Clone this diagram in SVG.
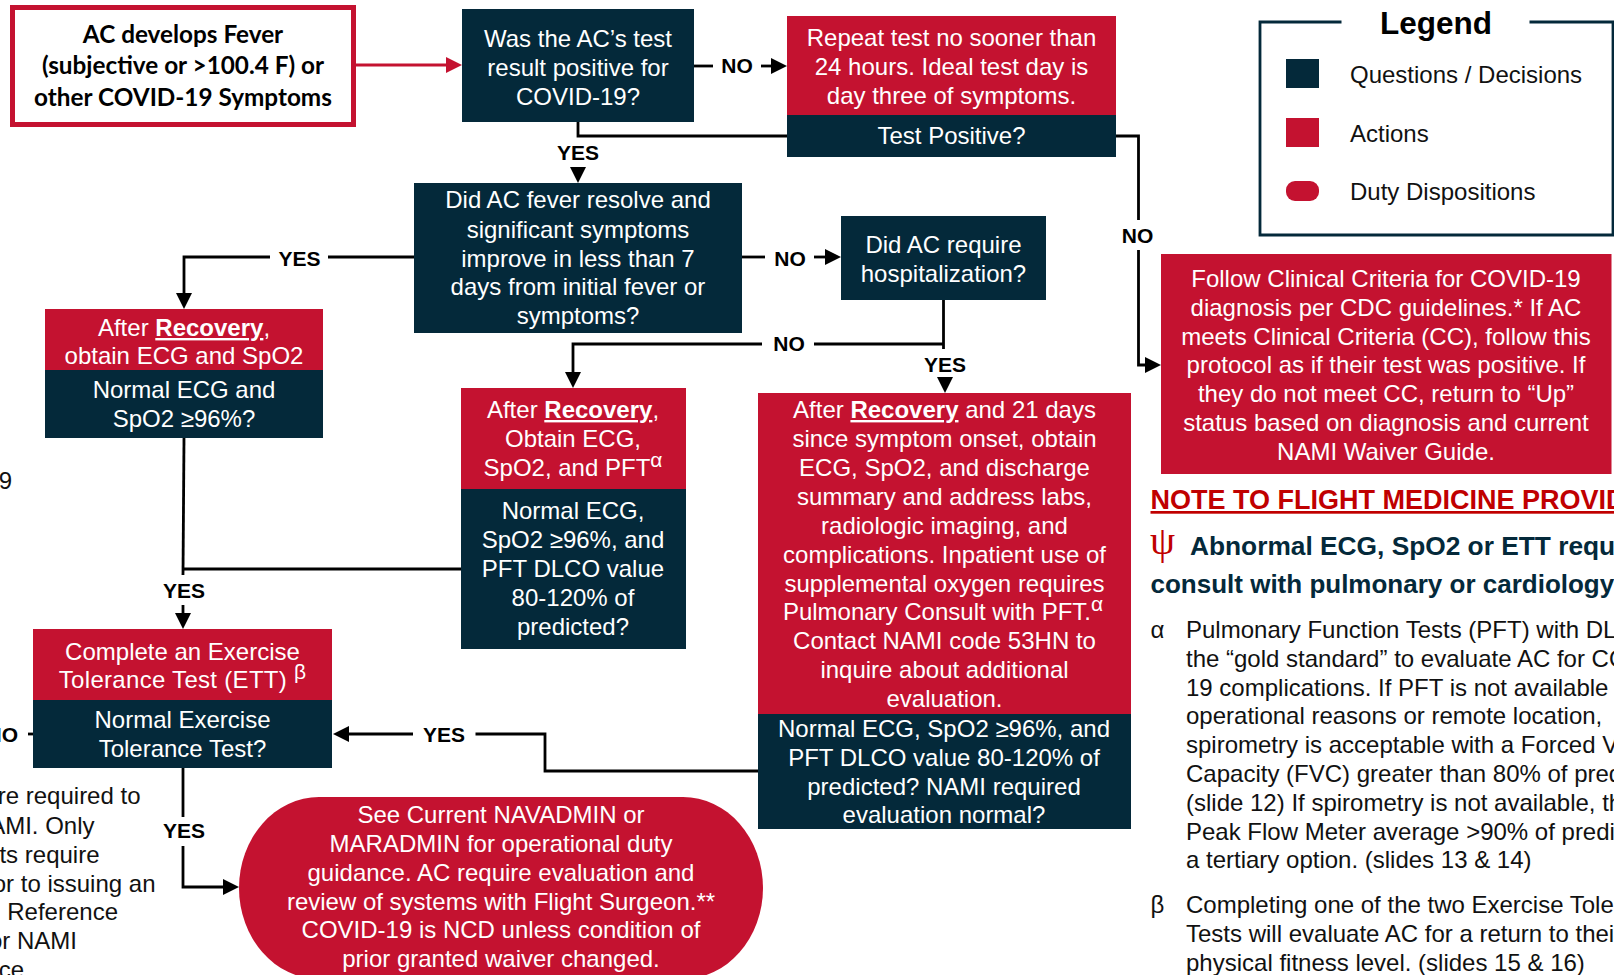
<svg xmlns="http://www.w3.org/2000/svg" width="1614" height="975" viewBox="0 0 1614 975">
<style>
text{font-family:"Liberation Sans",Arial,sans-serif;font-size:24px;text-anchor:middle}
.w{fill:#fff}
.l{text-anchor:start;fill:#111}
.e{text-anchor:end;fill:#111}
.lab{font-weight:700;font-size:21px;fill:#000}
.start{font-family:Lato,"Liberation Sans",sans-serif;font-weight:700;fill:#000;font-size:24.3px}
.b{font-weight:700;text-decoration:underline}
.sup{font-size:21px}
.navy{fill:#04293a}
.red{fill:#c41230}
.c{fill:none;stroke:#000;stroke-width:2.8}
.h{font-weight:700;font-size:26px;text-anchor:start;fill:#04293a}
</style>
<defs>
<marker id="a" markerUnits="userSpaceOnUse" markerWidth="16" markerHeight="16" refX="12" refY="8" orient="auto"><path d="M0,0L16,8L0,16z" fill="#000"/></marker>
<marker id="ar" markerUnits="userSpaceOnUse" markerWidth="16" markerHeight="16" refX="12" refY="8" orient="auto"><path d="M0,0L16,8L0,16z" fill="#c41230"/></marker>
</defs>
<rect width="1614" height="975" fill="#fff"/>

<g id="connectors">
<path d="M356,65H458" fill="none" stroke="#c41230" stroke-width="3" marker-end="url(#ar)"/>
<path class="c" d="M694,66H713"/>
<path class="c" d="M761,66H783" marker-end="url(#a)"/>
<path class="c" d="M578,122V136H787"/>
<path class="c" d="M578,168V179" marker-end="url(#a)"/>
<path class="c" d="M1116,136H1138.5V220"/>
<path class="c" d="M1138.5,250V365H1157" marker-end="url(#a)"/>
<path class="c" d="M414,257H328"/>
<path class="c" d="M270,257H184V305" marker-end="url(#a)"/>
<path class="c" d="M742,257H765"/>
<path class="c" d="M814,257H837" marker-end="url(#a)"/>
<path class="c" d="M943.5,300V349"/>
<path class="c" d="M943.5,344H814"/>
<path class="c" d="M762,344H573V384" marker-end="url(#a)"/>
<path class="c" d="M945,379V389" marker-end="url(#a)"/>
<path class="c" d="M184,438L183,575"/>
<path class="c" d="M183,569H461"/>
<path class="c" d="M183,605V625" marker-end="url(#a)"/>
<path class="c" d="M183,768V817"/>
<path class="c" d="M183,846V887H235" marker-end="url(#a)"/>
<path class="c" d="M28,734H33"/>
<path class="c" d="M758,771H545V734H475.5"/>
<path class="c" d="M413,734H337" marker-end="url(#a)"/>
</g>

<g id="connector-labels">
<text class="lab" x="737" y="73">NO</text>
<text class="lab" x="578" y="160">YES</text>
<text class="lab" x="1137.5" y="243">NO</text>
<text class="lab" x="299.5" y="266">YES</text>
<text class="lab" x="790" y="266">NO</text>
<text class="lab" x="789" y="351">NO</text>
<text class="lab" x="945" y="372">YES</text>
<text class="lab" x="184" y="598">YES</text>
<text class="lab" x="184" y="838">YES</text>
<text class="lab" x="18" y="742" style="text-anchor:end">NO</text>
<text class="lab" x="444" y="742">YES</text>
</g>

<g id="node-start">
<rect x="12.500" y="7.500" width="341" height="117" fill="#fff" stroke="#c41230" stroke-width="5"/>
<text class="start" x="183" y="43">AC develops Fever</text>
<text class="start" x="183" y="74">(subjective or &gt;100.4 F) or</text>
<text class="start" x="183" y="106">other COVID-19 Symptoms</text>
</g>

<g id="node-test-positive">
<rect class="navy" x="462" y="9" width="232" height="113"/>
<text class="w" x="578" y="46.500">Was the AC’s test</text>
<text class="w" x="578" y="75.500">result positive for</text>
<text class="w" x="578" y="104.500">COVID-19?</text>
</g>

<g id="node-repeat-test">
<rect class="red" x="787" y="16" width="329" height="99"/>
<rect class="navy" x="787" y="115" width="329" height="42"/>
<text class="w" x="951.5" y="46">Repeat test no sooner than</text>
<text class="w" x="951.5" y="75">24 hours. Ideal test day is</text>
<text class="w" x="951.5" y="104">day three of symptoms.</text>
<text class="w" x="951.5" y="144">Test Positive?</text>
</g>

<g id="node-fever-resolve">
<rect class="navy" x="414" y="183" width="328" height="150"/>
<text class="w" x="578" y="208">Did AC fever resolve and</text>
<text class="w" x="578" y="238">significant symptoms</text>
<text class="w" x="578" y="267">improve in less than 7</text>
<text class="w" x="578" y="295">days from initial fever or</text>
<text class="w" x="578" y="324">symptoms?</text>
</g>

<g id="node-hospitalization">
<rect class="navy" x="841" y="216" width="205" height="84"/>
<text class="w" x="943.5" y="253">Did AC require</text>
<text class="w" x="943.5" y="282">hospitalization?</text>
</g>

<g id="node-clinical-criteria">
<rect class="red" x="1161" y="254" width="450.500" height="220"/>
<text class="w" x="1386" y="287">Follow Clinical Criteria for COVID-19</text>
<text class="w" x="1386" y="316">diagnosis per CDC guidelines.* If AC</text>
<text class="w" x="1386" y="345">meets Clinical Criteria (CC), follow this</text>
<text class="w" x="1386" y="373">protocol as if their test was positive. If</text>
<text class="w" x="1386" y="402">they do not meet CC, return to “Up”</text>
<text class="w" x="1386" y="431">status based on diagnosis and current</text>
<text class="w" x="1386" y="460">NAMI Waiver Guide.</text>
</g>

<g id="node-recovery-ecg">
<rect class="red" x="45" y="309" width="278" height="61"/>
<rect class="navy" x="45" y="370" width="278" height="68"/>
<text class="w" x="184" y="336">After <tspan class="b">Recovery</tspan>,</text>
<text class="w" x="184" y="364">obtain ECG and SpO2</text>
<text class="w" x="184" y="398">Normal ECG and</text>
<text class="w" x="184" y="427">SpO2 ≥96%?</text>
</g>

<g id="node-recovery-pft">
<rect class="red" x="461" y="388" width="225" height="101"/>
<rect class="navy" x="461" y="489" width="225" height="160"/>
<text class="w" x="573" y="418">After <tspan class="b">Recovery</tspan>,</text>
<text class="w" x="573" y="447">Obtain ECG,</text>
<text class="w" x="573" y="476">SpO2, and PFT<tspan class="sup" dy="-9">α</tspan></text>
<text class="w" x="573" y="519">Normal ECG,</text>
<text class="w" x="573" y="548">SpO2 ≥96%, and</text>
<text class="w" x="573" y="577">PFT DLCO value</text>
<text class="w" x="573" y="606">80-120% of</text>
<text class="w" x="573" y="635">predicted?</text>
</g>

<g id="node-recovery-21days">
<rect class="red" x="758" y="393" width="373" height="321"/>
<rect class="navy" x="758" y="714" width="373" height="115"/>
<text class="w" x="944.500" y="418">After <tspan class="b">Recovery</tspan> and 21 days</text>
<text class="w" x="944.500" y="447">since symptom onset, obtain</text>
<text class="w" x="944.500" y="476">ECG, SpO2, and discharge</text>
<text class="w" x="944.500" y="505">summary and address labs,</text>
<text class="w" x="944.500" y="534">radiologic imaging, and</text>
<text class="w" x="944.500" y="563">complications. Inpatient use of</text>
<text class="w" x="944.500" y="592">supplemental oxygen requires</text>
<text class="w" x="943" y="620">Pulmonary Consult with PFT.<tspan class="sup" dy="-9">α</tspan></text>
<text class="w" x="944.500" y="648.500">Contact NAMI code 53HN to</text>
<text class="w" x="944.500" y="677.500">inquire about additional</text>
<text class="w" x="944.500" y="706.500">evaluation.</text>
<text class="w" x="944" y="737">Normal ECG, SpO2 ≥96%, and</text>
<text class="w" x="944" y="766">PFT DLCO value 80-120% of</text>
<text class="w" x="944" y="795">predicted? NAMI required</text>
<text class="w" x="944" y="822.500">evaluation normal?</text>
</g>

<g id="node-ett">
<rect class="red" x="33" y="629" width="299" height="71"/>
<rect class="navy" x="33" y="700" width="299" height="68"/>
<text class="w" x="182.500" y="659.500">Complete an Exercise</text>
<text class="w" x="182.500" y="688"><tspan letter-spacing="0.3">Tolerance Test (ETT) </tspan><tspan class="sup" dy="-9">β</tspan></text>
<text class="w" x="182.500" y="728">Normal Exercise</text>
<text class="w" x="182.500" y="757">Tolerance Test?</text>
</g>

<g id="node-duty">
<rect class="red" x="239" y="797" width="524" height="182" rx="80" ry="91"/>
<text class="w" x="501" y="823">See Current NAVADMIN or</text>
<text class="w" x="501" y="852">MARADMIN for operational duty</text>
<text class="w" x="501" y="881">guidance. AC require evaluation and</text>
<text class="w" x="501" y="910">review of systems with Flight Surgeon.**</text>
<text class="w" x="501" y="938">COVID-19 is NCD unless condition of</text>
<text class="w" x="501" y="967">prior granted waiver changed.</text>
</g>

<g id="legend">
<path d="M1341.5,22H1260V235H1613V22H1529.5" fill="none" stroke="#04293a" stroke-width="2.8"/>
<text x="1436" y="34" style="font-weight:700;font-size:31.500px;fill:#000">Legend</text>
<rect class="navy" x="1286" y="59" width="33" height="29"/>
<rect class="red" x="1286" y="118" width="33" height="29"/>
<rect class="red" x="1286" y="181" width="33" height="20" rx="9"/>
<text class="l" x="1350" y="83">Questions / Decisions</text>
<text class="l" x="1350" y="142">Actions</text>
<text class="l" x="1350" y="200">Duty Dispositions</text>
</g>

<g id="clipped-left-text">
<text class="e" x="12" y="489">9</text>
<text class="e" x="140.500" y="804">re required to</text>
<text class="e" x="94.500" y="834">AMI. Only</text>
<text class="e" x="99.500" y="863">ts require</text>
<text class="e" x="155.500" y="892">or to issuing an</text>
<text class="e" x="118" y="920">Reference</text>
<text class="e" x="77" y="949">or NAMI</text>
<text class="e" x="24" y="978">ce</text>
</g>

<g id="notes">
<text x="1150.500" y="509" style="font-weight:700;font-size:27px;text-anchor:start;fill:#c00000;text-decoration:underline">NOTE TO FLIGHT MEDICINE PROVID</text>
<text x="1150" y="554" style="font-size:40px;text-anchor:start;fill:#c00000;font-family:'Liberation Serif',serif">ψ</text>
<text class="h" x="1190" y="555" style="font-size:26.3px">Abnormal ECG, SpO2 or ETT requ</text>
<text class="h" x="1150.500" y="593">consult with pulmonary or cardiology</text>
<text class="l" x="1150.500" y="638">α</text>
<text class="l" x="1186" y="638">Pulmonary Function Tests (PFT) with DL</text>
<text class="l" x="1186" y="667">the “gold standard” to evaluate AC for CO</text>
<text class="l" x="1186" y="696">19 complications. If PFT is not available</text>
<text class="l" x="1186" y="724">operational reasons or remote location,</text>
<text class="l" x="1186" y="753">spirometry is acceptable with a Forced V</text>
<text class="l" x="1186" y="782">Capacity (FVC) greater than 80% of pred</text>
<text class="l" x="1186" y="811">(slide 12) If spirometry is not available, th</text>
<text class="l" x="1186" y="840">Peak Flow Meter average &gt;90% of predi</text>
<text class="l" x="1186" y="868">a tertiary option. (slides 13 &amp; 14)</text>
<text class="l" x="1150.500" y="913">β</text>
<text class="l" x="1186" y="913">Completing one of the two Exercise Tole</text>
<text class="l" x="1186" y="942">Tests will evaluate AC for a return to thei</text>
<text class="l" x="1186" y="971">physical fitness level. (slides 15 &amp; 16)</text>
</g>
</svg>
